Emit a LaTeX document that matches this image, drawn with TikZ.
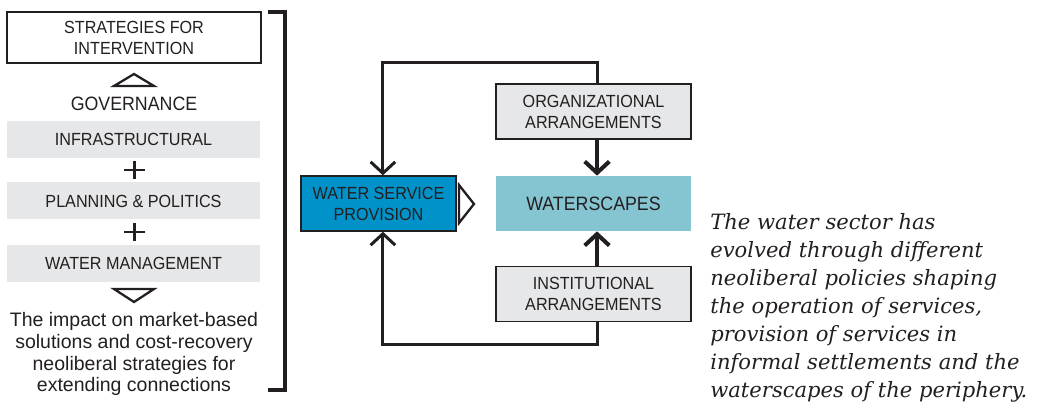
\documentclass[tikz,border=0pt]{standalone}
\usepackage{fontspec}
\setmainfont{Liberation Sans}
\newfontfamily\condfont[FakeStretch=0.92]{Liberation Sans}
\newfontfamily\notefont{DejaVu Serif}
\usetikzlibrary{arrows.meta}
\definecolor{ink}{RGB}{35, 31, 32}
\definecolor{layer}{RGB}{230, 231, 232}
\definecolor{deep}{RGB}{0, 146, 200}
\definecolor{pale}{RGB}{133, 197, 209}

\tikzset{
  caplabel/.style={font=\condfont\fontsize{10}{12}\selectfont, text=ink, align=center, inner sep=0pt},
  layerbox/.style={caplabel, fill=layer, minimum width=5.06cm, minimum height=0.74cm},
  arrangebox/.style={caplabel, draw=ink, line width=0.8pt, fill=layer, minimum width=3.9cm, minimum height=1.1cm},
  loopline/.style={draw=ink, line width=1.7pt, -{Straight Barb[length=6.5pt, width=14pt, line width=1.7pt]}},
  stemline/.style={draw=ink, line width=2.3pt, -{Straight Barb[length=6.5pt, width=14pt, line width=2.3pt]}},
  hollow/.style={draw=ink, line width=1.3pt, line join=miter}
}

\begin{document}
\begin{tikzpicture}[x=0.02cm, y=-0.02cm]
  \useasboundingbox (0, 0) rectangle (1039, 408);

  % left column
  \node[caplabel, draw=ink, line width=0.8pt, fill=white, minimum width=5.08cm, minimum height=1.02cm] (strat) at (134, 37.5) {STRATEGIES FOR\\INTERVENTION};
  \draw[hollow] (114, 86) -- (134, 74) -- (154, 86) -- cycle;
  \node[caplabel, font=\condfont\fontsize{11}{13}\selectfont] (gov) at (134, 104) {GOVERNANCE};

  \foreach \n/\y/\t in {infra/139.5/INFRASTRUCTURAL, plan/201/PLANNING \& POLITICS, mgmt/263.5/WATER MANAGEMENT} {
    \node[layerbox] (\n) at (133.5, \y) {\t};
  }
  \foreach \y in {170, 232} {
    \draw[ink, line width=1.3pt] (124, \y) -- (145, \y) (134.5, {\y - 9}) -- (134.5, {\y + 9});
  }

  \draw[hollow] (114, 289) -- (154, 289) -- (134, 302) -- cycle;
  \node[font=\fontsize{11.1}{12.5}\selectfont, text=ink, align=center] (impact) at (134, 354) {The impact on market-based\\solutions and cost-recovery\\neoliberal strategies for\\extending connections};

  \draw[ink, line width=1.8pt] (268, 12) -- (285, 12) -- (285, 390) -- (268, 390);

  % right diagram
  \node[caplabel, draw=ink, line width=0.8pt, fill=deep, minimum width=3.1cm, minimum height=1.1cm] (wsp) at (378.5, 203.5) {WATER SERVICE\\PROVISION};
  \node[caplabel, font=\condfont\fontsize{11}{13}\selectfont, fill=pale, minimum width=3.9cm, minimum height=1.1cm] (wsc) at (593.5, 203.5) {WATERSCAPES};
  \node[arrangebox] (org) at (593.5, 111.5) {ORGANIZATIONAL\\ARRANGEMENTS};
  \node[arrangebox] (inst) at (593.5, 294) {INSTITUTIONAL\\ARRANGEMENTS};

  \draw[hollow] (459, 185) -- (474, 204) -- (459, 223) -- cycle;

  \draw[stemline] ([xshift=2pt]org.south) -- ([xshift=2pt]wsc.north);
  \draw[stemline] ([xshift=2pt]inst.north) -- ([xshift=2pt]wsc.south);
  \draw[loopline] ([xshift=2pt]org.north) -- ++(0, -21) -| ([xshift=2.5pt]wsp.north);
  \draw[loopline] ([xshift=2pt]inst.south) -- ++(0, 22) -| ([xshift=2.5pt]wsp.south);

  \node[font=\notefont\itshape\fontsize{12}{16}\selectfont, text=ink, align=left, anchor=west, inner sep=0pt] (note) at (710, 308) {The water sector has\\evolved through different\\neoliberal policies shaping\\the operation of services,\\provision of services in\\informal settlements and the\\waterscapes of the periphery.};
\end{tikzpicture}
\end{document}
